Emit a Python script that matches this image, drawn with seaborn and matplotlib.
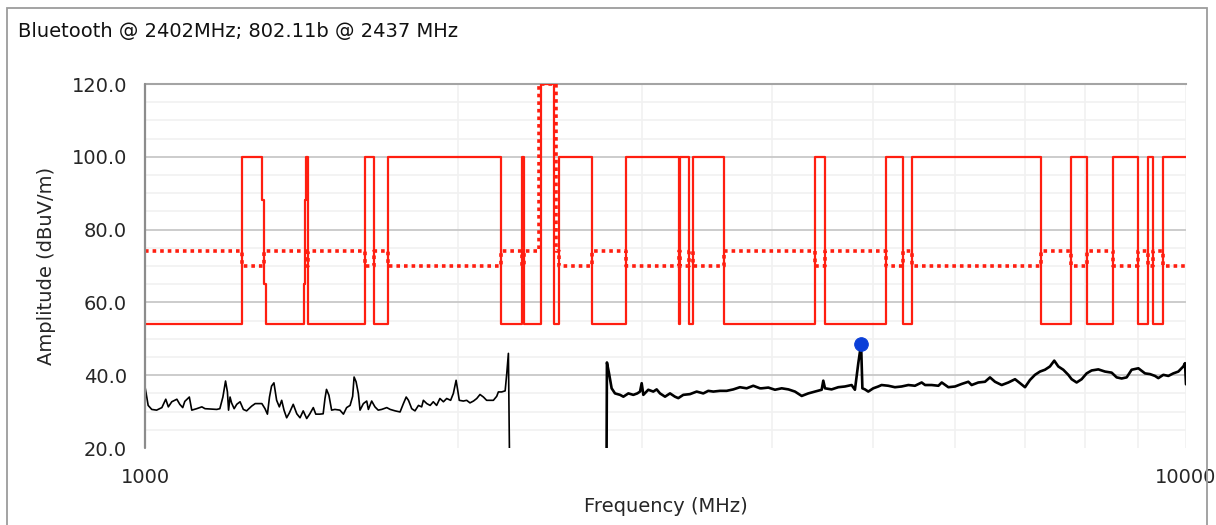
import matplotlib
matplotlib.use("Agg")
import matplotlib.pyplot as plt
import seaborn as sns
from matplotlib.ticker import FixedLocator, NullFormatter, MultipleLocator
from matplotlib.patches import Rectangle

# ---------------------------------------------------------------- data
title_text = "Bluetooth @ 2402MHz; 802.11b @ 2437 MHz"
x_label = "Frequency (MHz)"
y_label = "Amplitude (dBuV/m)"

x_major_ticks = [1000, 10000]
x_major_labels = ["1000", "10000"]
x_minor_ticks = [2000, 3000, 4000, 5000, 6000, 7000, 8000, 9000]
y_ticks = [20, 40, 60, 80, 100, 120]

# limit lines: band edges (MHz) and one level per band (dBuV/m)
limit_edges_mhz = [1000, 1240, 1295, 1302, 1307, 1422, 1425, 1428, 1435, 1626.5,
                   1660, 1710, 2200, 2300, 2310, 2390, 2400, 2470, 2483.5, 2500,
                   2690, 2900, 3260, 3267, 3332, 3358, 3600, 4400, 4500, 5150,
                   5350, 5460, 7250, 7750, 8025, 8500, 9000, 9200, 9300, 9500,
                   10000]
solid_limit = [54, 100, 88, 65, 54, 65, 88, 100, 54, 100,
               54, 100, 54, 100, 54, 54, 120, 54, 54, 100,
               54, 100, 54, 100, 54, 100, 54, 100, 54, 100,
               54, 100, 54, 100, 54, 100, 54, 100, 54, 100]
dotted_limit = [74, 70, 70, 74, 74, 74, 74, 70, 74, 70,
                74, 70, 74, 70, 74, 120, 120, 120, 74, 70,
                74, 70, 74, 70, 74, 70, 74, 70, 74, 70,
                74, 70, 74, 70, 74, 70, 74, 70, 74, 70]

# measured trace below the notch
freq_low = [1000, 1002, 1007, 1015, 1026, 1038, 1047, 1053, 1061, 1073,
            1080, 1087, 1092, 1103, 1109, 1121, 1134, 1142, 1172, 1180,
            1188, 1195, 1200, 1203, 1207, 1211, 1218, 1225, 1234, 1243,
            1252, 1266, 1276, 1295, 1304, 1311, 1317, 1323, 1330, 1338,
            1346, 1353, 1360, 1368, 1376, 1388, 1399, 1409, 1419, 1430,
            1440, 1451, 1459, 1472, 1483, 1489, 1494, 1502, 1511, 1522,
            1539, 1551, 1562, 1574, 1583, 1588, 1595, 1603, 1609, 1621,
            1633, 1639, 1651, 1663, 1675, 1688, 1707, 1720, 1739, 1758,
            1771, 1782, 1791, 1804, 1817, 1831, 1844, 1851, 1865, 1879,
            1892, 1906, 1920, 1935, 1949, 1966, 1978, 1990, 1997, 2004,
            2022, 2037, 2052, 2068, 2083, 2098, 2114, 2129, 2145, 2161,
            2177, 2185, 2201, 2218, 2226, 2234, 2239]
amp_low = [36.8, 35.4, 31.7, 30.6, 30.4, 31.1, 33.4, 31.3, 32.7, 33.4,
           32.0, 31.1, 32.8, 34.0, 30.4, 30.8, 31.3, 30.8, 30.6, 30.8,
           34.0, 38.4, 35.4, 30.4, 34.0, 32.4, 30.8, 32.0, 32.7, 30.6,
           30.2, 31.5, 32.2, 32.2, 30.8, 29.3, 34.0, 37.0, 37.9, 33.1,
           31.3, 33.1, 30.4, 28.3, 29.6, 32.0, 29.4, 28.3, 30.2, 28.1,
           29.4, 31.1, 29.3, 29.3, 29.4, 33.6, 36.1, 34.5, 30.4, 30.6,
           30.4, 29.3, 31.1, 31.7, 34.2, 39.5, 38.2, 35.0, 30.4, 32.2,
           32.9, 30.6, 32.9, 31.3, 30.4, 30.6, 31.1, 30.6, 30.2, 29.9,
           32.2, 34.0, 33.1, 30.8, 30.2, 31.7, 31.3, 33.1, 32.2, 31.7,
           32.7, 31.7, 33.6, 32.7, 33.6, 33.1, 35.0, 38.6, 35.9, 33.1,
           32.9, 33.1, 32.4, 32.9, 33.6, 34.7, 34.0, 33.1, 33.1, 33.1,
           34.2, 35.4, 35.4, 35.7, 40.5, 46.0, 20.0]

# measured trace above the notch
freq_high = [2776, 2778, 2791, 2807, 2828, 2860, 2881, 2913, 2945, 2971,
             2989, 3000, 3011, 3044, 3078, 3101, 3124, 3159, 3194, 3229,
             3253, 3289, 3338, 3388, 3438, 3476, 3515, 3567, 3620, 3674,
             3728, 3784, 3840, 3897, 3912, 3970, 4029, 4089, 4150, 4211,
             4274, 4337, 4401, 4467, 4483, 4500, 4566, 4634, 4703, 4773,
             4808, 4844, 4874, 4888, 4916, 4952, 5007, 5063, 5100, 5176,
             5253, 5331, 5411, 5491, 5573, 5615, 5698, 5783, 5826, 5912,
             6000, 6089, 6179, 6224, 6317, 6411, 6482, 6554, 6652, 6751,
             6851, 6928, 7004, 7082, 7160, 7240, 7320, 7401, 7472, 7539,
             7623, 7708, 7765, 7851, 7939, 8027, 8116, 8237, 8359, 8484,
             8578, 8673, 8770, 8867, 9000, 9133, 9235, 9337, 9406, 9511,
             9617, 9724, 9832, 9941, 9978, 10000]
amp_high = [20.0, 43.5, 40.5, 36.4, 35.0, 34.6, 34.1, 35.0, 34.6, 35.0,
            35.5, 37.8, 34.6, 36.0, 35.5, 36.1, 35.0, 34.1, 35.0, 34.1,
            33.7, 34.6, 34.8, 35.5, 35.0, 35.7, 35.5, 35.7, 35.7, 36.1,
            36.7, 36.4, 37.1, 36.4, 36.4, 36.6, 36.0, 36.4, 36.1, 35.5,
            34.3, 35.0, 35.5, 36.0, 38.5, 36.4, 36.1, 36.7, 36.9, 37.3,
            36.0, 43.3, 48.6, 36.4, 36.1, 35.5, 36.4, 36.9, 37.3, 37.1,
            36.7, 36.9, 37.3, 37.1, 38.0, 37.3, 37.3, 37.1, 38.0, 36.7,
            36.9, 37.6, 38.2, 37.3, 38.0, 38.2, 39.4, 38.2, 37.3, 38.0,
            38.9, 37.8, 36.7, 38.7, 40.1, 41.0, 41.5, 42.4, 44.0, 42.4,
            41.5, 40.1, 38.9, 38.0, 38.9, 40.5, 41.3, 41.6, 41.0, 40.7,
            39.4, 39.1, 39.4, 41.5, 41.9, 40.5, 40.3, 39.8, 39.2, 40.1,
            39.8, 40.5, 41.0, 42.4, 43.3, 37.5]

# peak marker (2nd harmonic of 2437 MHz)
peak_freq = [4874]
peak_amp = [48.6]

# ---------------------------------------------------------------- style
sns.set_style("white")
plt.rcParams["font.family"] = ["DejaVu Sans"]
plt.rcParams["font.size"] = 14
plt.rcParams["text.color"] = "#111111"

W, H = 1216, 525
fig = plt.figure(figsize=(W / 100, H / 100), dpi=100)
ax = fig.add_axes([145 / W, 1 - 448 / H, (1186 - 145) / W, (448 - 84) / H])
ax.set_xscale("log")

red = "#ff1e10"

# limit lines drawn as steps over the band edges
sns.lineplot(x=limit_edges_mhz, y=solid_limit + solid_limit[-1:], ax=ax,
             estimator=None, sort=False, drawstyle="steps-post",
             color=red, linewidth=1.6, zorder=3)
sns.lineplot(x=limit_edges_mhz, y=dotted_limit + dotted_limit[-1:], ax=ax,
             estimator=None, sort=False, drawstyle="steps-post",
             color=red, linewidth=2.6, linestyle=(0, (1, 1.1)), zorder=3)
for ln in ax.lines[-1:]:
    ln.set_dash_capstyle("butt")

# measured trace
sns.lineplot(x=freq_low, y=amp_low, ax=ax, estimator=None, sort=False,
             color="black", linewidth=1.2, zorder=4)
sns.lineplot(x=freq_high, y=amp_high, ax=ax, estimator=None, sort=False,
             color="black", linewidth=1.9, zorder=4)

# peak marker
sns.scatterplot(x=peak_freq, y=peak_amp, ax=ax, color="#0b3fd8",
                edgecolor="#0b3fd8", s=95, marker="o", zorder=6)

# ---------------------------------------------------------------- axes
ax.set_xlim(1000, 10000)
ax.set_ylim(20, 120)

ax.xaxis.set_major_locator(FixedLocator(x_major_ticks))
ax.set_xticklabels(x_major_labels)
ax.xaxis.set_minor_locator(FixedLocator(x_minor_ticks))
ax.xaxis.set_minor_formatter(NullFormatter())

ax.yaxis.set_major_locator(FixedLocator(y_ticks))
ax.set_yticklabels([f"{v:.1f}" for v in y_ticks])
ax.yaxis.set_minor_locator(MultipleLocator(5))

ax.tick_params(axis="x", which="major", direction="out", length=5.5,
               width=1.1, color="#3a3a3a", pad=4, labelsize=14)
ax.tick_params(axis="x", which="minor", direction="out", length=3.6,
               width=1.1, color="#3a3a3a")
ax.tick_params(axis="y", which="major", direction="out", length=6,
               width=1.1, color="#3a3a3a", pad=4, labelsize=14)
ax.tick_params(axis="y", which="minor", length=0)

# light grid
ax.grid(which="minor", axis="y", color="#f1f1f1", linewidth=1.2)
ax.grid(which="both", axis="x", color="#f1f1f1", linewidth=1.2)
for v in y_ticks[1:-1]:
    ax.axhline(v, color="#c8c8c8", linewidth=1.3, zorder=0.8)
ax.set_axisbelow(True)

for side in ("right", "bottom", "left"):
    ax.spines[side].set_visible(False)
ax.spines["bottom"].set_position(("outward", 5))
ax.spines["left"].set_position(("outward", 3))
ax.spines["top"].set_color("#a4a4a4")
ax.spines["top"].set_linewidth(1.5)
ax.axvline(x_major_ticks[0], color="#8c8c8c", linewidth=1.6,
           clip_on=False, zorder=5)

ax.set_xlabel(x_label, fontsize=14)
ax.xaxis.set_label_coords(0.5, -(497 - 448) / (448 - 84))
ax.set_ylabel(y_label, fontsize=14)
ax.yaxis.set_label_coords(-(145 - 56) / (1186 - 145), 0.5)

# title and outer frame
fig.text(18 / W, 1 - 32 / H, title_text, ha="left", va="center", fontsize=14)
fig.add_artist(Rectangle((7 / W, -0.05), (1207 - 7) / W, 1 - 8 / H + 0.05,
                         transform=fig.transFigure, fill=False,
                         edgecolor="#9c9c9c", linewidth=1.3))

fig.savefig("out.png", dpi=100)
